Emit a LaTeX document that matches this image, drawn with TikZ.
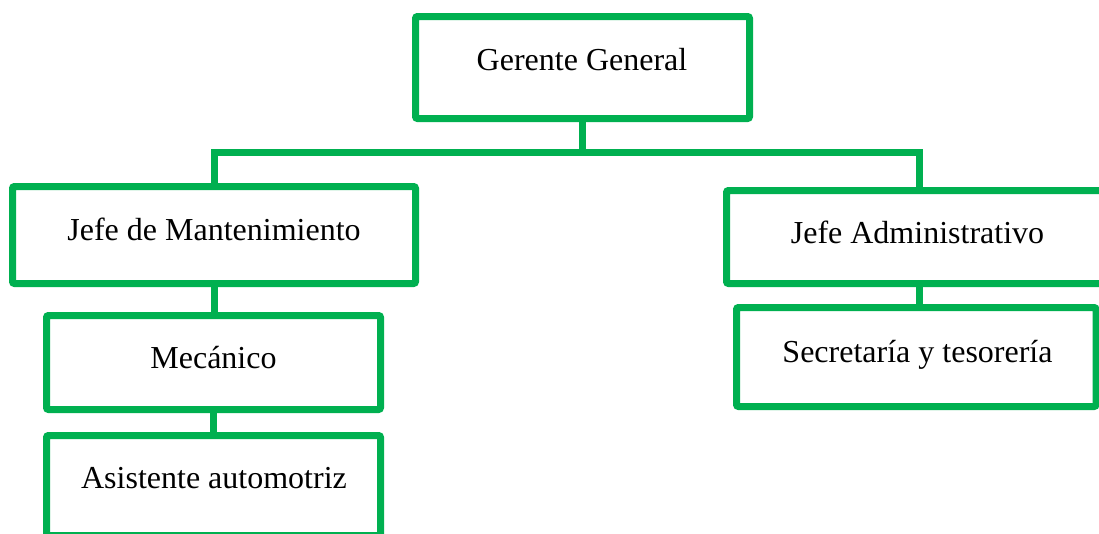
\documentclass[tikz,border=0pt]{standalone}
\usepackage{fontspec}
\setmainfont{Liberation Serif}
\definecolor{orgGreen}{RGB}{0,176,80}
\tikzset{
  unitbox/.style={draw=orgGreen, line width=7pt, rounded corners=2pt, rectangle,
    inner sep=0pt, fill=white},
  unitlabel/.style={anchor=base, inner sep=0pt, font=\fontsize{32}{38}\selectfont},
  link/.style={draw=orgGreen, line width=7pt}
}
\begin{document}
\begin{tikzpicture}[x=1pt, y=-1pt]
  \useasboundingbox (0,0) rectangle (1099,533);
  \clip (0,0) rectangle (1099,533);

  % boxes of the organisation chart
  \node[unitbox, minimum width=334pt, minimum height=102pt] (gg)  at (582.5,67.5) {};
  \node[unitbox, minimum width=403pt, minimum height=97pt]  (jm)  at (214,235) {};
  \node[unitbox, minimum width=385pt, minimum height=93pt]  (ja)  at (919,237) {};
  \node[unitbox, minimum width=359.5pt, minimum height=99pt] (sec) at (916.25,357) {};
  \node[unitbox, minimum width=334pt, minimum height=94pt]  (mec) at (213.5,362.5) {};
  \node[unitbox, minimum width=334pt, minimum height=100pt] (as)  at (213.5,485.5) {};

  % titles
  \node[unitlabel] (ggt)  at (582,70)    {Gerente General};
  \node[unitlabel] (jmt)  at (214,240)   {Jefe de Mantenimiento};
  \node[unitlabel] (jat)  at (917.5,243) {Jefe Administrativo};
  \node[unitlabel] (sect) at (917.5,362) {Secretaría y tesorería};
  \node[unitlabel] (mect) at (213.5,368) {Mecánico};
  \node[unitlabel] (ast)  at (214,488)   {Asistente automotriz};

  % reporting lines
  \coordinate (bus) at (582.5,152.5);
  \draw[link] (gg.south) -- (bus);
  \draw[link] (jm.north) |- (bus) -| (ja.north);
  \draw[link] (jm.south) -- (jm.south |- mec.north);
  \draw[link] (mec.south) -- (mec.south |- as.north);
  \draw[link] (ja.south) -- (ja.south |- sec.north);
\end{tikzpicture}
\end{document}
